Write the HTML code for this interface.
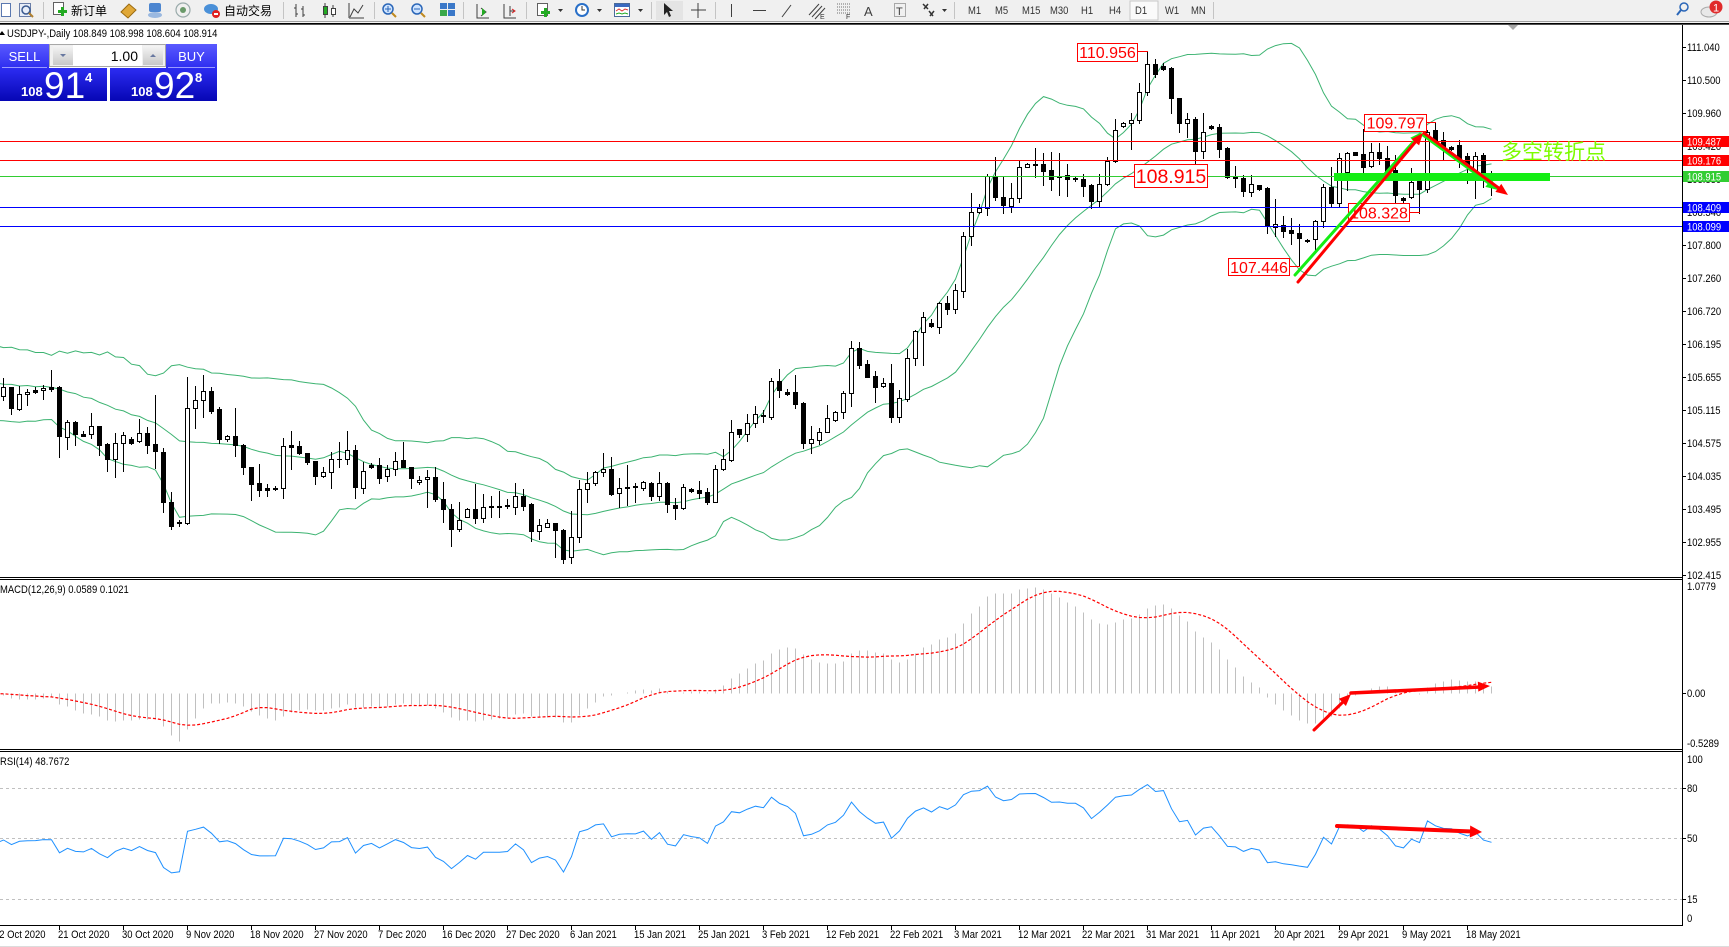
<!DOCTYPE html>
<html><head><meta charset="utf-8">
<style>
html,body{margin:0;padding:0;background:#fff;}
body{width:1729px;height:947px;overflow:hidden;position:relative;}
svg{position:absolute;left:0;top:0;}
text{font-family:"Liberation Sans","Noto Sans CJK SC",sans-serif;}
.t{font-size:11px;fill:#000;}
.w{font-size:11px;fill:#fff;}
.tb{font-size:11px;fill:#333;}
.cj{font-size:12px;fill:#000;font-family:"Liberation Sans","Noto Sans CJK SC",sans-serif;}
</style></head><body>
<svg id="chart" width="1729" height="947" viewBox="0 0 1729 947" xmlns="http://www.w3.org/2000/svg">
<defs>
<clipPath id="cm"><rect x="0" y="25" width="1682" height="552"/></clipPath>
<clipPath id="cmacd"><rect x="0" y="580" width="1682" height="169"/></clipPath>
<clipPath id="crsi"><rect x="0" y="752" width="1682" height="173"/></clipPath>
<linearGradient id="gb" x1="0" y1="0" x2="0" y2="1"><stop offset="0" stop-color="#5a5aff"/><stop offset="1" stop-color="#2e2ef0"/></linearGradient>
<linearGradient id="gp" x1="0" y1="0" x2="0" y2="1"><stop offset="0" stop-color="#2c2cf2"/><stop offset="1" stop-color="#0606b4"/></linearGradient>
<linearGradient id="gg" x1="0" y1="0" x2="0" y2="1"><stop offset="0" stop-color="#f4f4f4"/><stop offset="1" stop-color="#c8c8c8"/></linearGradient>
</defs>

<!-- toolbar -->
<g shape-rendering="crispEdges">
<rect x="0" y="0" width="1729" height="21" fill="#f0f0f0"/>
<rect x="0" y="21" width="1729" height="1" fill="#a0a0a0"/>
<rect x="0" y="22" width="1729" height="1" fill="#f4f4f4"/>
<rect x="0" y="23" width="1729" height="1" fill="#000"/>
<rect x="0" y="24" width="1729" height="1" fill="#505050"/>
<g fill="#c4c4c4">
<rect x="43" y="2" width="1" height="17"/><rect x="283" y="2" width="1" height="17"/><rect x="374" y="2" width="1" height="17"/>
<rect x="463" y="2" width="1" height="17"/><rect x="526" y="2" width="1" height="17"/><rect x="651" y="2" width="1" height="17"/>
<rect x="715" y="2" width="1" height="17"/><rect x="954" y="2" width="1" height="17"/><rect x="1213" y="2" width="1" height="17"/>
</g>
</g>
<!-- toolbar icons -->
<g>
<rect x="1.5" y="3.5" width="9" height="13" fill="#fff" stroke="#5a78b0"/>
<rect x="19.5" y="3.5" width="11" height="13" fill="#e8eef8" stroke="#6a7ea8"/><circle cx="26" cy="10" r="4" fill="none" stroke="#3a5a90" stroke-width="1.5"/><line x1="29" y1="13" x2="33" y2="17" stroke="#b08030" stroke-width="2"/>
<rect x="53.5" y="2.5" width="10" height="12" fill="#fff" stroke="#606060"/><rect x="58" y="10" width="9" height="3" fill="#22aa22"/><rect x="61" y="7" width="3" height="9" fill="#22aa22"/>
<text class="cj" x="71" y="15">新订单</text>
<polygon points="121,12 129,4 136,10 128,18" fill="#e0a838" stroke="#9a6a10"/>
<rect x="149" y="3" width="12" height="9" rx="2" fill="#4d86d0"/><ellipse cx="155" cy="15" rx="7" ry="3" fill="#9ab8e0"/>
<circle cx="183" cy="10" r="7" fill="none" stroke="#9aa" stroke-width="1.2"/><circle cx="183" cy="10" r="3" fill="#6a9a6a"/>
<ellipse cx="211" cy="9" rx="7" ry="5" fill="#4a90d8"/><circle cx="216" cy="14" r="4" fill="#e02020"/><rect x="214" y="13" width="4" height="2" fill="#fff"/>
<text class="cj" x="224" y="15">自动交易</text>
<g stroke="#404040" stroke-width="1" fill="none">
<path d="M296 4v13M296 8h-2M296 14h2M303 6v11M303 9h-2M303 15h2"/>
<path d="M325 3v15M333 5v12"/><rect x="323.5" y="6.5" width="4" height="8" fill="#2a2"/><rect x="331.5" y="8.5" width="4" height="6" fill="#fff"/>
<path d="M350 17l4-8 4 4 5-8"/><path d="M349 18h15M349 18v-15"/>
</g>
<circle cx="388" cy="9" r="5" fill="#cfe4ff" stroke="#2a66b8" stroke-width="1.5"/><path d="M385 9h6M388 6v6" stroke="#2a66b8"/><line x1="392" y1="13" x2="396" y2="17" stroke="#c08a20" stroke-width="2"/>
<circle cx="417" cy="9" r="5" fill="#cfe4ff" stroke="#2a66b8" stroke-width="1.5"/><path d="M414 9h6" stroke="#2a66b8"/><line x1="421" y1="13" x2="425" y2="17" stroke="#c08a20" stroke-width="2"/>
<rect x="440" y="3" width="7" height="6" fill="#3a78c8"/><rect x="448" y="3" width="7" height="6" fill="#3a78c8"/><rect x="440" y="10" width="7" height="6" fill="#3aa84a"/><rect x="448" y="10" width="7" height="6" fill="#3a78c8"/>
<path d="M477 4v14h12M481 8l5 4-5 4" stroke="#404040" fill="none"/><path d="M482 8l4 4-4 4z" fill="#2a2"/>
<path d="M504 4v14h12M510 6v10M510 11h5" stroke="#404040" fill="none"/><path d="M512 9l3 2-3 2" stroke="#d22" fill="none"/>
<rect x="537.5" y="3.5" width="10" height="12" fill="#fff" stroke="#606060"/><rect x="541" y="11" width="9" height="3" fill="#22aa22"/><rect x="544" y="8" width="3" height="9" fill="#22aa22"/>
<path d="M558 9h5l-2.5 3z" fill="#333"/>
<circle cx="582" cy="10" r="7" fill="#2a70c8"/><circle cx="582" cy="10" r="5" fill="#fff"/><path d="M582 6v4h3" stroke="#333" fill="none"/>
<path d="M597 9h5l-2.5 3z" fill="#333"/>
<rect x="614.5" y="3.5" width="15" height="13" fill="#fff" stroke="#4a6a9a"/><rect x="615" y="4" width="14" height="3" fill="#3a6ac0"/><path d="M616 11l3-2 3 2 3-2 3 1" stroke="#d33" fill="none"/><path d="M616 14l3-1 3 1 3-1 3 1" stroke="#2a2" fill="none"/>
<path d="M638 9h5l-2.5 3z" fill="#333"/>
<rect x="656" y="1" width="27" height="19" fill="#e4e4e4"/>
<path d="M664 3v12l3-3 2 5 2-1-2-5h4z" fill="#222"/>
<path d="M698 3v15M691 10h15" stroke="#404040" fill="none"/>
<path d="M731.5 4v13" stroke="#404040"/>
<path d="M753 10.5h13" stroke="#404040"/>
<path d="M782 17l9-12" stroke="#404040"/>
<path d="M809 15l10-11M812 17l10-11M815 19l10-11" stroke="#404040" fill="none"/><text x="820" y="19" font-size="7" fill="#333">E</text>
<path d="M837 4h13M837 7h13M837 10h13M837 13h13" stroke="#707070" stroke-dasharray="1 1" fill="none"/><text x="846" y="19" font-size="7" fill="#333">F</text>
<text x="864" y="16" font-size="13" fill="#404040">A</text>
<rect x="894.5" y="3.5" width="11" height="13" fill="none" stroke="#606060" stroke-dasharray="1 1"/><text x="896" y="15" font-size="11" fill="#404040">T</text>
<path d="M923 4l5 5M924 9l4-5M929 11l4 5M930 16l4-5" stroke="#333" stroke-width="1.5" fill="none"/>
<path d="M942 9h5l-2.5 3z" fill="#333"/>
<rect x="1130" y="1" width="28" height="19" fill="#fafafa" stroke="#c8c8c8"/>
<text class="tb" transform="translate(968 14) scale(.86 1)">M1</text>
<text class="tb" transform="translate(995 14) scale(.86 1)">M5</text>
<text class="tb" transform="translate(1022 14) scale(.86 1)">M15</text>
<text class="tb" transform="translate(1050 14) scale(.86 1)">M30</text>
<text class="tb" transform="translate(1081 14) scale(.86 1)">H1</text>
<text class="tb" transform="translate(1109 14) scale(.86 1)">H4</text>
<text class="tb" transform="translate(1135 14) scale(.86 1)">D1</text>
<text class="tb" transform="translate(1165 14) scale(.86 1)">W1</text>
<text class="tb" transform="translate(1191 14) scale(.86 1)">MN</text>
<circle cx="1684" cy="7" r="4" fill="none" stroke="#2a66b8" stroke-width="1.5"/><line x1="1681" y1="10" x2="1677" y2="15" stroke="#2a66b8" stroke-width="2"/>
<ellipse cx="1709" cy="12" rx="8" ry="5" fill="#e8e8e8" stroke="#aaa"/>
<circle cx="1716" cy="7" r="6.5" fill="#e02a2a"/><text x="1716" y="11.5" font-size="11" fill="#fff" text-anchor="middle">1</text>
</g>

<!-- chart frames -->
<g shape-rendering="crispEdges">
<rect x="0" y="577" width="1682" height="1" fill="#000"/>
<rect x="0" y="579" width="1682" height="1" fill="#000"/>
<rect x="0" y="749" width="1682" height="1" fill="#000"/>
<rect x="0" y="751" width="1682" height="1" fill="#000"/>
<rect x="0" y="925" width="1683" height="1" fill="#000"/>
<rect x="1682" y="25" width="1" height="901" fill="#000"/>
<rect x="0" y="946" width="1729" height="1" fill="#dcdcdc"/>
</g>
<polygon points="1508,25 1518,25 1513,30" fill="#a8a8a8"/>

<!-- RSI levels -->
<g stroke="#c0c0c0" stroke-dasharray="3 3" shape-rendering="crispEdges">
<line x1="0" y1="788.5" x2="1682" y2="788.5"/>
<line x1="0" y1="838.5" x2="1682" y2="838.5"/>
<line x1="0" y1="899.5" x2="1682" y2="899.5"/>
</g>

<g id="bb" clip-path="url(#cm)" fill="none" stroke="#3cb371" stroke-width="1"></g>
<g id="cd" clip-path="url(#cm)" shape-rendering="crispEdges"></g>
<g id="mh" clip-path="url(#cmacd)" shape-rendering="crispEdges" stroke="#c0c0c0"></g>
<g id="ms" clip-path="url(#cmacd)" fill="none" stroke="#ff0000" stroke-width="1.2" stroke-dasharray="3 2"></g>
<g id="rs" clip-path="url(#crsi)" fill="none" stroke="#1e90ff" stroke-width="1"></g>

<!-- horizontal lines -->
<g shape-rendering="crispEdges" stroke-width="1">
<line x1="0" y1="141.5" x2="1682" y2="141.5" stroke="#ff0000"/>
<line x1="0" y1="160.5" x2="1682" y2="160.5" stroke="#ff0000"/>
<line x1="0" y1="176.5" x2="1682" y2="176.5" stroke="#32cd32"/>
<line x1="0" y1="207.5" x2="1682" y2="207.5" stroke="#0000ff"/>
<line x1="0" y1="226.5" x2="1682" y2="226.5" stroke="#0000ff"/>
</g>

<!-- annotation boxes -->
<g shape-rendering="crispEdges" stroke="#ff0000" stroke-width="1">
<line x1="1137" y1="51.5" x2="1148" y2="51.5"/>
<line x1="1123" y1="176.5" x2="1134" y2="176.5"/>
<line x1="1426" y1="122.5" x2="1436" y2="122.5"/>
<line x1="1409" y1="212.5" x2="1420" y2="212.5"/>
<line x1="1289" y1="266.5" x2="1300" y2="266.5"/>
<rect x="1077.5" y="43.5" width="60" height="18" fill="#fff"/>
<rect x="1134.5" y="164.5" width="73" height="23" fill="#fff"/>
<rect x="1364.5" y="114.5" width="62" height="17" fill="#fff"/>
<rect x="1348.5" y="203.5" width="61" height="18" fill="#fff"/>
<rect x="1228.5" y="258.5" width="61" height="17" fill="#fff"/>
</g>
<g fill="#ff0000" text-anchor="middle">
<text x="1107.5" y="58" font-size="16">110.956</text>
<text x="1171" y="183" font-size="19.5">108.915</text>
<text x="1395.5" y="128.5" font-size="16">109.797</text>
<text x="1379" y="218.5" font-size="16">108.328</text>
<text x="1259" y="273" font-size="16">107.446</text>
</g>

<!-- green bar and arrows -->
<rect x="1334" y="173" width="216" height="8" fill="#14ee14"/>
<g stroke-linecap="round">
<line x1="1295" y1="275" x2="1416" y2="139" stroke="#14ee14" stroke-width="3"/>
<polygon points="1422,132 1417.8,144.3 1410.3,137.7" fill="#14ee14"/>
<line x1="1423" y1="135" x2="1490" y2="184" stroke="#14ee14" stroke-width="3"/>
<polygon points="1498,190 1485.4,186.9 1491.3,178.9" fill="#14ee14"/>
<line x1="1298" y1="282" x2="1417" y2="140" stroke="#ff0000" stroke-width="3"/>
<polygon points="1423,133 1419.1,145.4 1411.5,139" fill="#ff0000"/>
<line x1="1424" y1="133" x2="1500" y2="189" stroke="#ff0000" stroke-width="3"/>
<polygon points="1508,195 1495.4,191.9 1501.3,183.9" fill="#ff0000"/>
<!-- MACD arrows -->
<line x1="1314" y1="730" x2="1345" y2="700" stroke="#ff0000" stroke-width="3"/>
<polygon points="1351,694 1345.9,706 1338.9,698.8" fill="#ff0000"/>
<line x1="1351" y1="693" x2="1480" y2="687" stroke="#ff0000" stroke-width="3.5"/>
<polygon points="1490,686 1478.3,691.6 1477.8,681.6" fill="#ff0000"/>
<!-- RSI arrow -->
<line x1="1337" y1="826" x2="1472" y2="831.5" stroke="#ff0000" stroke-width="4"/>
<polygon points="1482,832 1469.8,837.5 1470.2,825.5" fill="#ff0000"/>
</g>
<text x="1501" y="159" font-size="21" fill="#7cfc00" font-family="'Liberation Sans','Noto Sans CJK SC',sans-serif">多空转折点</text>

<!-- title and indicator labels -->
<polygon points="-1,35 2,31 5,35" fill="#000"/>
<text class="t" transform="translate(7 37) scale(.86 1)">USDJPY-,Daily  108.849 108.998 108.604 108.914</text>
<text class="t" transform="translate(0 593) scale(.86 1)">MACD(12,26,9) 0.0589 0.1021</text>
<text class="t" transform="translate(0 765) scale(.86 1)">RSI(14) 48.7672</text>

<!-- price axis -->
<g stroke="#000" shape-rendering="crispEdges">
<path d="M1682 47.5h4M1682 80.5h4M1682 113.5h4M1682 146.5h4M1682 179.5h4M1682 212.5h4M1682 245.5h4M1682 278.5h4M1682 311.5h4M1682 344.5h4M1682 377.5h4M1682 410.5h4M1682 443.5h4M1682 476.5h4M1682 509.5h4M1682 542.5h4M1682 575.5h4M1682 693.5h4M1682 788.5h4M1682 838.5h4M1682 899.5h4"/>
</g>
<g>
<text class="t" transform="translate(1687 51) scale(.86 1)">111.040</text>
<text class="t" transform="translate(1687 84) scale(.86 1)">110.500</text>
<text class="t" transform="translate(1687 117) scale(.86 1)">109.960</text>
<text class="t" transform="translate(1687 150) scale(.86 1)">109.420</text>
<text class="t" transform="translate(1687 183) scale(.86 1)">108.880</text>
<text class="t" transform="translate(1687 216) scale(.86 1)">108.340</text>
<text class="t" transform="translate(1687 249) scale(.86 1)">107.800</text>
<text class="t" transform="translate(1687 282) scale(.86 1)">107.260</text>
<text class="t" transform="translate(1687 315) scale(.86 1)">106.720</text>
<text class="t" transform="translate(1687 348) scale(.86 1)">106.195</text>
<text class="t" transform="translate(1687 381) scale(.86 1)">105.655</text>
<text class="t" transform="translate(1687 414) scale(.86 1)">105.115</text>
<text class="t" transform="translate(1687 447) scale(.86 1)">104.575</text>
<text class="t" transform="translate(1687 480) scale(.86 1)">104.035</text>
<text class="t" transform="translate(1687 513) scale(.86 1)">103.495</text>
<text class="t" transform="translate(1687 546) scale(.86 1)">102.955</text>
<text class="t" transform="translate(1687 579) scale(.86 1)">102.415</text>
<text class="t" transform="translate(1687 590) scale(.86 1)">1.0779</text>
<text class="t" transform="translate(1687 697) scale(.86 1)">0.00</text>
<text class="t" transform="translate(1687 747) scale(.86 1)">-0.5289</text>
<text class="t" transform="translate(1687 763) scale(.86 1)">100</text>
<text class="t" transform="translate(1687 792) scale(.86 1)">80</text>
<text class="t" transform="translate(1687 842) scale(.86 1)">50</text>
<text class="t" transform="translate(1687 903) scale(.86 1)">15</text>
<text class="t" transform="translate(1687 922) scale(.86 1)">0</text>
</g>
<g shape-rendering="crispEdges">
<rect x="1683" y="136" width="46" height="11" fill="#ff0000"/>
<rect x="1683" y="155" width="46" height="11" fill="#ff0000"/>
<rect x="1683" y="171" width="46" height="11" fill="#32cd32"/>
<rect x="1683" y="202" width="46" height="11" fill="#0000ff"/>
<rect x="1683" y="221" width="46" height="11" fill="#0000ff"/>
</g>
<text class="w" transform="translate(1687 145.5) scale(.86 1)">109.487</text>
<text class="w" transform="translate(1687 164.5) scale(.86 1)">109.176</text>
<text class="w" transform="translate(1687 180.5) scale(.86 1)">108.915</text>
<text class="w" transform="translate(1687 211.5) scale(.86 1)">108.409</text>
<text class="w" transform="translate(1687 230.5) scale(.86 1)">108.099</text>

<!-- date axis -->
<g stroke="#000" shape-rendering="crispEdges">
<path d="M59.5 925v5M123.5 925v5M187.5 925v5M251.5 925v5M315.5 925v5M379.5 925v5M443.5 925v5M507.5 925v5M571.5 925v5M635.5 925v5M699.5 925v5M763.5 925v5M827.5 925v5M891.5 925v5M955.5 925v5M1019.5 925v5M1083.5 925v5M1147.5 925v5M1211.5 925v5M1275.5 925v5M1339.5 925v5M1403.5 925v5M1467.5 925v5"/>
</g>
<g>
<text class="t" transform="translate(-6 938) scale(.86 1)">12 Oct 2020</text>
<text class="t" transform="translate(58 938) scale(.86 1)">21 Oct 2020</text>
<text class="t" transform="translate(122 938) scale(.86 1)">30 Oct 2020</text>
<text class="t" transform="translate(186 938) scale(.86 1)">9 Nov 2020</text>
<text class="t" transform="translate(250 938) scale(.86 1)">18 Nov 2020</text>
<text class="t" transform="translate(314 938) scale(.86 1)">27 Nov 2020</text>
<text class="t" transform="translate(378 938) scale(.86 1)">7 Dec 2020</text>
<text class="t" transform="translate(442 938) scale(.86 1)">16 Dec 2020</text>
<text class="t" transform="translate(506 938) scale(.86 1)">27 Dec 2020</text>
<text class="t" transform="translate(570 938) scale(.86 1)">6 Jan 2021</text>
<text class="t" transform="translate(634 938) scale(.86 1)">15 Jan 2021</text>
<text class="t" transform="translate(698 938) scale(.86 1)">25 Jan 2021</text>
<text class="t" transform="translate(762 938) scale(.86 1)">3 Feb 2021</text>
<text class="t" transform="translate(826 938) scale(.86 1)">12 Feb 2021</text>
<text class="t" transform="translate(890 938) scale(.86 1)">22 Feb 2021</text>
<text class="t" transform="translate(954 938) scale(.86 1)">3 Mar 2021</text>
<text class="t" transform="translate(1018 938) scale(.86 1)">12 Mar 2021</text>
<text class="t" transform="translate(1082 938) scale(.86 1)">22 Mar 2021</text>
<text class="t" transform="translate(1146 938) scale(.86 1)">31 Mar 2021</text>
<text class="t" transform="translate(1210 938) scale(.86 1)">11 Apr 2021</text>
<text class="t" transform="translate(1274 938) scale(.86 1)">20 Apr 2021</text>
<text class="t" transform="translate(1338 938) scale(.86 1)">29 Apr 2021</text>
<text class="t" transform="translate(1402 938) scale(.86 1)">9 May 2021</text>
<text class="t" transform="translate(1466 938) scale(.86 1)">18 May 2021</text>
</g>

<!-- one click trading panel -->
<g>
<rect x="0" y="44" width="217" height="57" fill="#fff"/>
<rect x="0" y="44" width="49" height="24" fill="url(#gb)"/>
<rect x="166" y="44" width="51" height="24" fill="url(#gb)"/>
<rect x="2" y="67" width="45" height="1" fill="#9a9aff"/>
<rect x="168" y="67" width="47" height="1" fill="#9a9aff"/>
<rect x="49.5" y="44.5" width="116" height="22" fill="#f0f0f0" stroke="#a8a8a8"/>
<rect x="53" y="46" width="20" height="19" fill="url(#gg)"/>
<rect x="73" y="45" width="69" height="21" fill="#fff"/>
<rect x="143" y="46" width="20" height="19" fill="url(#gg)"/>
<polygon points="60,54 66,54 63,57" fill="#6878a0"/>
<polygon points="150,57 156,57 153,54" fill="#6878a0"/>
<text x="138" y="61" font-size="14" fill="#000" text-anchor="end">1.00</text>
<text x="24.5" y="61" font-size="13" fill="#fff" text-anchor="middle">SELL</text>
<text x="191.5" y="61" font-size="13" fill="#fff" text-anchor="middle">BUY</text>
<rect x="0" y="68" width="107" height="33" fill="url(#gp)"/>
<rect x="110" y="68" width="107" height="33" fill="url(#gp)"/>
<text x="21" y="96" font-size="13" font-weight="bold" fill="#fff">108</text>
<text x="44" y="98" font-size="37" fill="#fff">91</text>
<text x="85" y="82" font-size="13" font-weight="bold" fill="#fff">4</text>
<text x="131" y="96" font-size="13" font-weight="bold" fill="#fff">108</text>
<text x="154" y="98" font-size="37" fill="#fff">92</text>
<text x="195" y="82" font-size="13" font-weight="bold" fill="#fff">8</text>
</g>
</svg>
<script>
(function(){
var NS='http://www.w3.org/2000/svg';
function E(p,tag,a){var e=document.createElementNS(NS,tag);for(var k in a)e.setAttribute(k,a[k]);p.appendChild(e);return e;}
var D=[[330,[[1,172,197,145,210],[0,172,233,170,253],[1,193,236,168,240],[1,186,193,178,225],[0,180,185,172,188],[1,175,181,165,207],[0,172,177,120,183],[0,170,317,168,380],[1,277,320,270,357],[0,277,311,273,345],
[0,312,317,303,318],[1,289,313,250,323],[0,289,344,289,375],[0,342,386,340,422],[1,340,386,310,440],[1,316,340,306,422],[0,327,339,322,342],[1,310,332,268,335],[0,310,344,292,368],[0,342,362,195,415],
[0,366,515,355,545],[0,516,587,487,597],[0,575,580,570,587],[1,235,580,141,583],[1,211,235,168,293],[1,184,211,135,260],[0,184,242,172,248],[0,237,328,232,340],[1,318,326,315,332],[0,318,346,234,377],
[0,346,410,341,432],[0,411,463,411,509],[0,460,479,403,497],[0,474,479,462,497],[0,474,478,467,480],[1,347,475,325,503],[0,346,350,302,416],[0,349,370,333,372],[0,370,397,368,402],[0,394,437,394,461],
[1,427,437,412,440],[1,388,427,366,473],[1,386,388,337,410],[1,361,388,303,401],[0,361,472,346,503],[1,424,474,395,490],[0,404,410,400,413],[0,406,443,383,458],[1,418,439,406,452],[1,392,418,367,434],
[0,391,410,337,412],[0,412,443,412,475],[1,449,457,438,462],[1,442,448,420,532],[0,441,508,412,512],[0,508,538,456,577],[0,538,598,521,649],[1,570,598,516,603],[1,538,560,535,562],[0,538,565,462,580],
[1,532,565,491,576],[0,528,532,498,560],[0,528,532,483,560],[0,525,529,507,535],[1,498,532,460,553],[0,498,527,477,541],[0,522,604,520,634],[1,586,604,567,628],[1,580,590,568,592],[0,579,601,579,680],
[0,601,686,598,700],[1,622,682,544,700]]],
[270,[[1,657,802,630,815],[1,640,658,606,695],[1,606,640,603,645],[1,598,607,548,617],[0,597,671,562,675],[1,655,670,625,710],[1,651,653,585,705],[0,648,652,640,695],[1,636,655,633,660],[0,640,677,637,690],
[1,640,677,606,690],[0,638,703,636,725],[0,705,713,685,746],[1,652,713,642,716],[0,657,662,653,665],[0,660,668,633,685],[0,666,697,655,703],[1,598,697,586,697],[1,568,598,538,600],[1,487,570,451,572],
[0,478,492,478,500],[1,460,493,432,512],[1,433,460,408,470],[0,435,439,421,456],[1,333,440,325,447],[0,333,359,297,380],[0,366,372,357,374],[0,366,401,315,413],[0,399,518,396,535],[1,508,518,468,548],
[1,485,510,474,523],[1,444,485,405,487],[1,425,450,422,452],[1,369,427,362,443],[1,235,370,212,407],[0,235,284,215,295],[0,282,320,270,322],[0,319,350,303,395],[1,340,347,325,350],[0,339,440,282,455],
[1,384,440,360,455],[1,265,386,236,392],[1,183,263,180,284],[1,142,185,125,285],[0,158,167,147,170],[1,100,170,95,190],[0,100,116,78,131],[1,60,118,42,128]]],
[30,[[1,618,783,606,800],[1,547,618,488,645],[1,535,545,522,548],[1,438,535,432,555],[0,438,502,380,510],[0,502,525,438,548],[1,505,527,458,545],[1,411,505,392,515],[1,403,410,400,412],[1,402,404,355,442],
[0,402,422,370,465],[0,420,446,365,480],[0,438,442,368,495],[0,435,448,402,497],[0,443,448,438,452],[0,447,467,432,497],[0,465,514,462,535],[1,463,514,432,527],[1,393,463,380,465],[1,300,393,268,395],
[1,279,287,275,290],[1,270,280,250,358],[1,187,270,160,280],[1,102,187,62,195],[0,102,133,88,142],[0,108,118,100,120],[0,114,205,112,250],[0,205,280,205,305],[1,268,280,250,320],[0,268,364,262,428],
[1,305,364,250,385],[0,287,293,285,298],[0,292,356,282,380],[0,355,440,350,445],[0,438,444,408,472]]],
[90,[[0,263,302,255,318],[1,283,305,255,318],[0,286,296,285,300],[0,293,408,290,428],[1,403,410,328,437],[0,406,422,377,440],[0,420,430,385,462],[0,430,443,402,527],[0,449,453,447,455],[1,392,447,390,483],
[1,292,392,282,412],[0,292,338,232,350],[1,205,338,190,352],[1,190,245,185,300],[0,186,194,186,195],[0,193,230,118,248],[1,185,228,160,232],[0,185,205,158,222],[0,205,245,168,250],[0,240,315,195,340],
[0,325,330,322,340],[1,275,322,235,325],[0,265,298,255,368],[1,125,297,120,305],[0,120,158,97,160],[0,150,175,125,210],[0,170,177,168,180],[0,165,205,150,232],[0,197,222,190,278],[1,197,250,185,325],
[0,195,245,188,292],[1,259,271,244,316]]]];
var C=[];
D.forEach(function(z){var off=z[0];z[1].forEach(function(r){var T=off+r[1]/3,B=off+r[2]/3,H=off+r[3]/3,L=off+r[4]/3;C.push(r[0]?{o:B,c:T,h:H,l:L,w:1}:{o:T,c:B,h:H,l:L,w:0});});});
var PRE=60,cl=[],i,j,k;
for(i=0;i<PRE;i++)cl.push(i<40?383:(i%2?401.75:364.25));
C.forEach(function(c){cl.push(c.c);});
function X(k){return 3+8*k+0.5;}
/* Bollinger */
var up=[],md=[],lo=[];
for(k=-1;k<C.length;k++){i=k+PRE;var s=0;for(j=i-19;j<=i;j++)s+=cl[j];var m=s/20,v=0;for(j=i-19;j<=i;j++)v+=(cl[j]-m)*(cl[j]-m);var sd=Math.sqrt(v/20);
up.push(X(k)+','+(m-2*sd).toFixed(1));md.push(X(k)+','+m.toFixed(1));lo.push(X(k)+','+(m+2*sd).toFixed(1));}
var bb=document.getElementById('bb');
[up,md,lo].forEach(function(a){E(bb,'polyline',{points:a.join(' ')});});
/* candles */
var cd=document.getElementById('cd');
C.forEach(function(c,k){var p=3+8*k;var h=Math.round(c.h),l=Math.round(c.l);
E(cd,'line',{x1:p+0.5,y1:h,x2:p+0.5,y2:l+1,stroke:'#000'});
var t=Math.round(Math.min(c.o,c.c)),b=Math.round(Math.max(c.o,c.c));
if(b-t<1){E(cd,'line',{x1:p-2,y1:t+0.5,x2:p+3,y2:t+0.5,stroke:'#000'});}
else{E(cd,'rect',{x:p-1.5,y:t+0.5,width:4,height:b-t,fill:c.w?'#fff':'#000',stroke:'#000'});}
});
/* MACD */
var pr=cl.map(function(y){return 111.04-(y-46.5)/61.11;});
var e12=pr[0],e26=pr[0],mac=[],sig=[];
for(i=0;i<pr.length;i++){if(i){e12+=(2/13)*(pr[i]-e12);e26+=(2/27)*(pr[i]-e26);}mac.push(e12-e26);}
for(i=0;i<pr.length;i++){if(i<8){sig.push(mac[i]);continue;}var s2=0;for(j=i-8;j<=i;j++)s2+=mac[j];sig.push(s2/9);}
function MY(v){return 693.4-v*105.2;}
var mh=document.getElementById('mh'),ms=document.getElementById('ms'),sp=[];
for(k=-1;k<C.length;k++){i=k+PRE;var yy=MY(mac[i]);E(mh,'line',{x1:X(k),y1:693.5,x2:X(k),y2:Math.round(yy)+0.5});sp.push(X(k)+','+MY(sig[i]).toFixed(1));}
E(ms,'polyline',{points:sp.join(' ')});
/* RSI */
var g=0,lo2=0,rsi=[];
for(i=1;i<pr.length;i++){var ch=pr[i]-pr[i-1];var G=ch>0?ch:0,L=ch<0?-ch:0;
if(i<=14){g+=G/14;lo2+=L/14;}else{g=(g*13+G)/14;lo2=(lo2*13+L)/14;}
rsi[i]=lo2===0?100:100-100/(1+g/lo2);}
var rp=[];for(k=-1;k<C.length;k++){i=k+PRE;rp.push(X(k)+','+(924.6-1.708*rsi[i]).toFixed(1));}
E(document.getElementById('rs'),'polyline',{points:rp.join(' ')});
})();
</script>
</body></html>
